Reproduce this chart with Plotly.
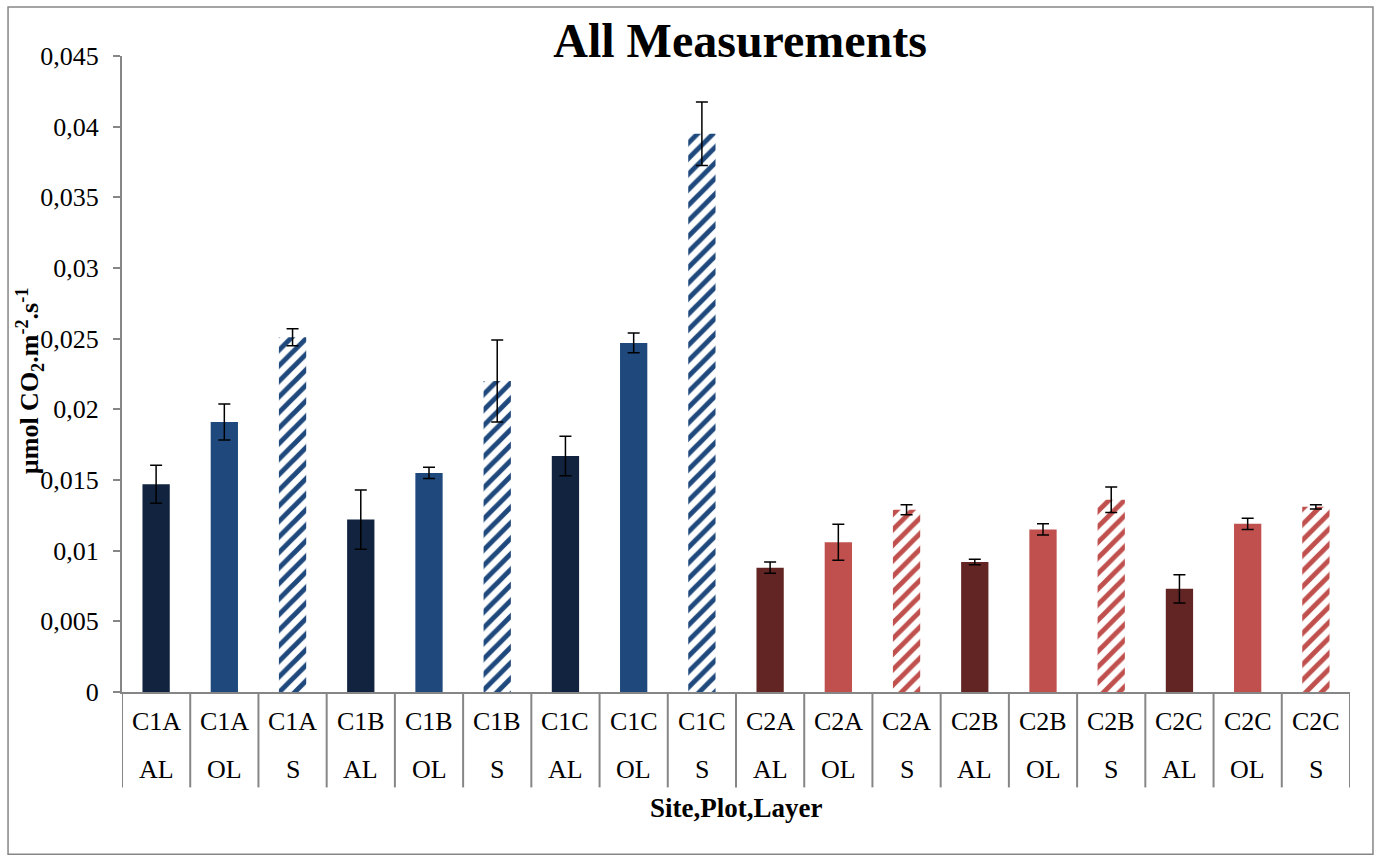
import plotly.graph_objects as go

# Soil CO2 flux per site / plot / layer
sites = ["C1A", "C1A", "C1A", "C1B", "C1B", "C1B", "C1C", "C1C", "C1C",
         "C2A", "C2A", "C2A", "C2B", "C2B", "C2B", "C2C", "C2C", "C2C"]
layers = ["AL", "OL", "S"] * 6
flux = [0.0147, 0.0191, 0.0251, 0.0122, 0.0155, 0.0220, 0.0167, 0.0247, 0.0395,
        0.0088, 0.0106, 0.0129, 0.0092, 0.0115, 0.0136, 0.0073, 0.0119, 0.0131]
flux_err = [0.00135, 0.00127, 0.0006, 0.0021, 0.0004, 0.0029, 0.0014, 0.0007, 0.00225,
            0.0004, 0.00127, 0.00035, 0.0002, 0.0004, 0.0009, 0.001, 0.0004, 0.00015]
y_ticks = [0, 0.005, 0.01, 0.015, 0.02, 0.025, 0.03, 0.035, 0.04, 0.045]
y_tick_text = ["0", "0,005", "0,01", "0,015", "0,02", "0,025", "0,03", "0,035", "0,04", "0,045"]

solid_colors = {("C1", "AL"): "#11233f", ("C1", "OL"): "#1f497d",
                ("C2", "AL"): "#632523", ("C2", "OL"): "#c0504d"}
hatch_colors = {"C1": "#1f497d", "C2": "#c0504d"}

FONT = "Liberation Serif, Times New Roman, serif"
GRAY = "#868686"

fig = go.Figure()

# one trace per (site group, layer) so each gets its own fill / hatch
groups = {}
for i, (s, l) in enumerate(zip(sites, layers)):
    groups.setdefault((s[:2], l), []).append(i)

for (site, layer), idx in groups.items():
    if layer == "S":
        marker = dict(color="white", line=dict(width=0),
                      pattern=dict(shape="/", fgcolor=hatch_colors[site], bgcolor="white",
                                   size=11, solidity=0.45, fillmode="replace"))
    else:
        marker = dict(color=solid_colors[(site, layer)], line=dict(width=0))
    fig.add_trace(go.Bar(
        x=idx, y=[flux[i] for i in idx], width=0.4, marker=marker,
        error_y=dict(type="data", array=[flux_err[i] for i in idx],
                     color="black", thickness=1.5, width=6),
        showlegend=False,
    ))

shapes = []
# category separators below the x axis
for i in range(len(flux) + 1):
    shapes.append(dict(type="line", xref="x", yref="paper", x0=i - 0.5, x1=i - 0.5,
                       y0=0, y1=-0.15, line=dict(color=GRAY, width=2)))
# outer chart frame
shapes.append(dict(type="rect", xref="paper", yref="paper", x0=-0.0928, x1=1.0187,
                   y0=-0.255, y1=1.077, line=dict(color=GRAY, width=1.5),
                   fillcolor="rgba(0,0,0,0)", layer="below"))

annotations = []
for i, (s, l) in enumerate(zip(sites, layers)):
    annotations.append(dict(x=i, y=-0.047, xref="x", yref="paper", text=s, showarrow=False,
                            font=dict(family=FONT, size=26, color="black"), yanchor="middle"))
    annotations.append(dict(x=i, y=-0.122, xref="x", yref="paper", text=l, showarrow=False,
                            font=dict(family=FONT, size=26, color="black"), yanchor="middle"))
annotations.append(dict(x=0.5, y=-0.183, xref="paper", yref="paper", text="<b>Site,Plot,Layer</b>",
                        showarrow=False, yanchor="middle",
                        font=dict(family=FONT, size=27, color="black")))
annotations.append(dict(x=-0.075, y=0.49, xref="paper", yref="paper", textangle=-90,
                        text="<b>µmol CO<sub>2</sub>.m<sup>-2</sup>.s<sup>-1</sup></b>",
                        showarrow=False, xanchor="center", yanchor="middle",
                        font=dict(family=FONT, size=26, color="black")))

fig.update_layout(
    width=1377, height=856,
    margin=dict(l=122, r=27, t=56, b=164),
    paper_bgcolor="white", plot_bgcolor="white",
    barmode="overlay",
    title=dict(text="<b>All Measurements</b>", x=0.5375, xanchor="center", y=0.953, yanchor="middle",
               font=dict(family=FONT, size=48, color="black")),
    xaxis=dict(range=[-0.5, len(flux) - 0.5], showticklabels=False, ticks="",
               showline=True, linecolor=GRAY, linewidth=2, showgrid=False, zeroline=False),
    yaxis=dict(range=[0, 0.045], tickvals=y_ticks, ticktext=y_tick_text,
               ticks="outside", ticklen=7, tickcolor=GRAY, tickwidth=2, ticklabelstandoff=9,
               showline=True, linecolor=GRAY, linewidth=2, showgrid=False, zeroline=False,
               tickfont=dict(family=FONT, size=26, color="black")),
    shapes=shapes, annotations=annotations,
)

fig.write_html("out.html")
